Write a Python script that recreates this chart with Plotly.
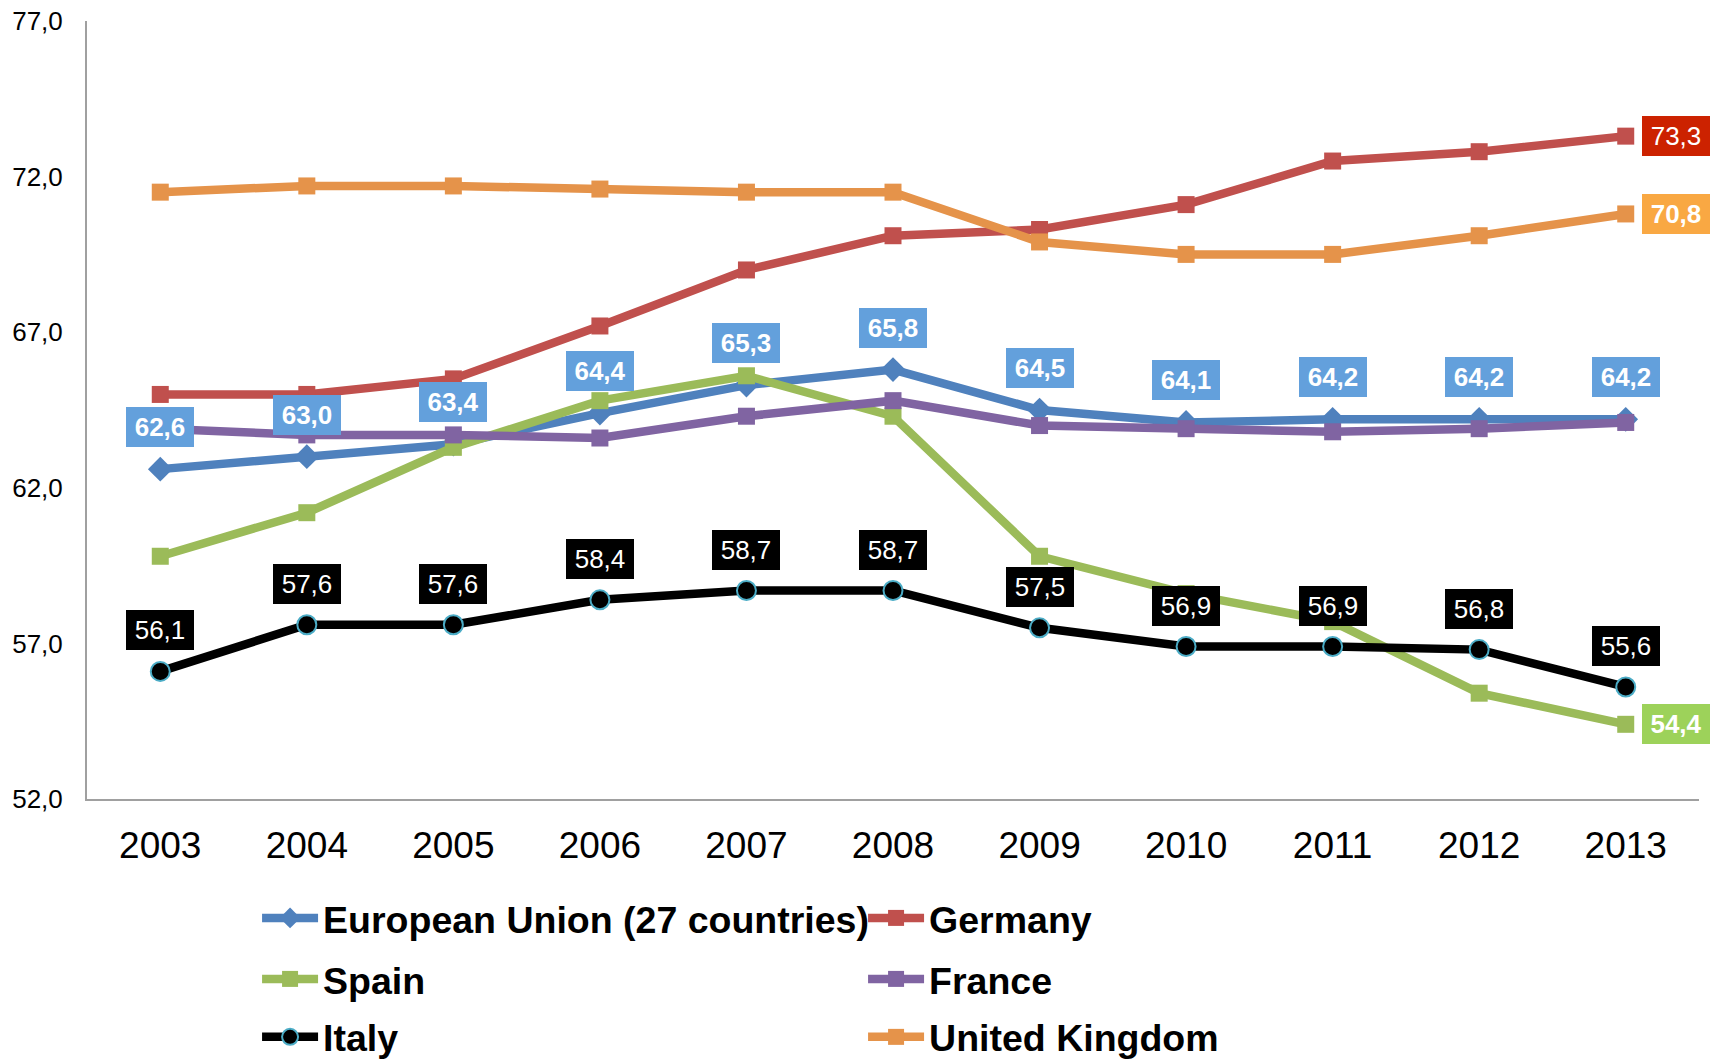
import plotly.graph_objects as go

years = ['2003', '2004', '2005', '2006', '2007', '2008', '2009', '2010', '2011', '2012', '2013']

eu = [62.6, 63.0, 63.4, 64.4, 65.3, 65.8, 64.5, 64.1, 64.2, 64.2, 64.2]
germany = [65.0, 65.0, 65.5, 67.2, 69.0, 70.1, 70.3, 71.1, 72.5, 72.8, 73.3]
spain = [59.8, 61.2, 63.3, 64.8, 65.6, 64.3, 59.8, 58.6, 57.7, 55.4, 54.4]
france = [63.9, 63.7, 63.7, 63.6, 64.3, 64.8, 64.0, 63.9, 63.8, 63.9, 64.1]
italy = [56.1, 57.6, 57.6, 58.4, 58.7, 58.7, 57.5, 56.9, 56.9, 56.8, 55.6]
uk = [71.5, 71.7, 71.7, 71.6, 71.5, 71.5, 69.9, 69.5, 69.5, 70.1, 70.8]

font_name = "Liberation Sans, Arial, sans-serif"


def fmt(v):
    return f"{v:.1f}".replace('.', ',')


# name, values, colour, marker, marker size, marker edge, legend row
series = [
    ("European Union (27 countries)", eu, '#4F81BD', 'diamond', 19, None, 'legend'),
    ("Germany", germany, '#C0504D', 'square', 17, None, 'legend'),
    ("Spain", spain, '#9BBB59', 'square', 17, None, 'legend2'),
    ("France", france, '#8064A2', 'square', 17, None, 'legend2'),
    ("Italy", italy, '#000000', 'circle', 19, '#4BACC6', 'legend3'),
    ("United Kingdom", uk, '#E5934A', 'square', 17, None, 'legend3'),
]

fig = go.Figure()
for name, vals, color, symbol, size, edge, leg in series:
    fig.add_trace(go.Scatter(
        x=years, y=vals, name=name, mode='lines+markers', legend=leg,
        line=dict(color=color, width=8.5),
        marker=dict(symbol=symbol, size=size, color=color,
                    line=dict(color=edge or color, width=2 if edge else 0)),
    ))

# annotations on a category axis use the category index
idx = list(range(len(years)))
annotations = []
for i, v in zip(idx, eu):
    annotations.append(dict(
        x=i, y=v, text=fmt(v), showarrow=False, yshift=42,
        font=dict(family=font_name, size=26, color='white', weight='bold'),
        bgcolor='#63A0DC', width=68, height=40, borderpad=0, borderwidth=0,
    ))
for i, v in zip(idx, italy):
    annotations.append(dict(
        x=i, y=v, text=fmt(v), showarrow=False, yshift=41,
        font=dict(family=font_name, size=26, color='white'),
        bgcolor='#000000', width=68, height=40, borderpad=0, borderwidth=0,
    ))
end_labels = [(germany, '#CC2200', 'normal'), (uk, '#F9A843', 'bold'), (spain, '#9DD25A', 'bold')]
for vals, bg, wt in end_labels:
    annotations.append(dict(
        x=idx[-1], y=vals[-1], text=fmt(vals[-1]), showarrow=False,
        xanchor='left', xshift=16,
        font=dict(family=font_name, size=26, color='white', weight=wt),
        bgcolor=bg, width=68, height=40, borderpad=0, borderwidth=0,
    ))

legend_style = dict(
    orientation='h', x=0.1055, xanchor='left', yanchor='middle',
    font=dict(family=font_name, size=37.5, weight='bold', color='black'),
    entrywidth=535, itemwidth=56, traceorder='normal', bgcolor='rgba(0,0,0,0)',
)

fig.update_layout(
    width=1716, height=1063,
    margin=dict(l=87, r=17, t=21, b=264, autoexpand=False),
    paper_bgcolor='white', plot_bgcolor='white',
    separators=',.',
    font=dict(family=font_name, color='black'),
    showlegend=True,
    legend=dict(legend_style, y=-0.153),
    legend2=dict(legend_style, y=-0.2314),
    legend3=dict(legend_style, y=-0.3059),
    annotations=annotations,
)

fig.update_xaxes(
    type='category', range=[-0.5, 10.5],
    showline=True, linecolor='#A0A0A0', linewidth=2,
    showgrid=False, zeroline=False, ticks='',
    tickfont=dict(family=font_name, size=37, color='black'),
    ticklabelstandoff=13,
)
fig.update_yaxes(
    range=[52, 77], dtick=5, tick0=52, tickformat='.1f',
    showline=True, linecolor='#A0A0A0', linewidth=2,
    showgrid=False, zeroline=False, ticks='',
    tickfont=dict(family=font_name, size=26, color='black'),
    ticklabelstandoff=17, ticklabeloverflow='allow',
)

# drop the default page margin so the figure sits at the window's corner
fig.write_html("out.html", config={'displayModeBar': False},
               post_script="document.body.style.margin='0';")
